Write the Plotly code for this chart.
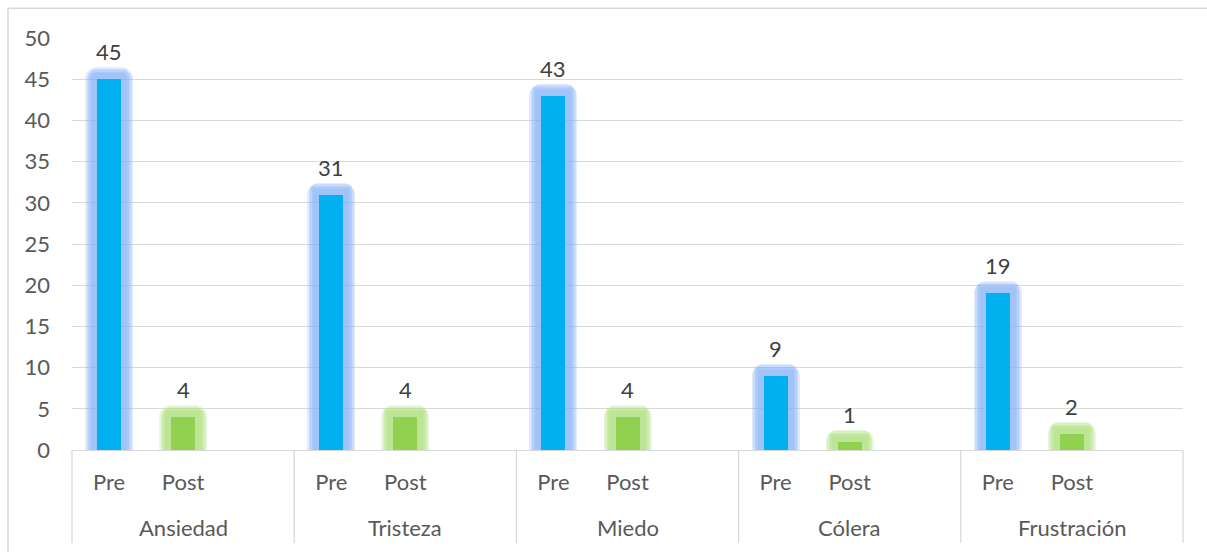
import plotly.graph_objects as go

groups = ["Ansiedad", "Tristeza", "Miedo", "Cólera", "Frustración"]
pre = [45, 31, 43, 9, 19]
post = [4, 4, 4, 1, 2]
sub_labels = ["Pre", "Post"]
y_ticks = list(range(0, 51, 5))

SLOTS = 3
x_pre = [i * SLOTS for i in range(len(groups))]
x_post = [i * SLOTS + 1 for i in range(len(groups))]
xmin, xmax = -0.5, len(groups) * SLOTS - 0.5

FONT = "Lato, Carlito, Calibri, sans-serif"
AXC = "#595959"
GRID = "#d9d9d9"
FS = 22

fig = go.Figure()

px_per_unit = 412.3 / 50.0
px_per_slot = 1111.0 / (xmax - xmin)
BAR_PX = 24


def add_glow(xs, ys, color):
    for ext in (12, 10.5, 9, 7.5, 6):
        fig.add_trace(go.Bar(
            x=xs, y=[v + ext / px_per_unit for v in ys],
            width=(BAR_PX + 2 * ext) / px_per_slot,
            marker=dict(color=color, opacity=0.26, line=dict(width=0), cornerradius=int(ext)),
            hoverinfo="skip", showlegend=False,
        ))


add_glow(x_pre, pre, "rgb(135,176,248)")
add_glow(x_post, post, "rgb(170,225,120)")

fig.add_trace(go.Bar(x=x_pre, y=pre, width=BAR_PX / px_per_slot,
                     marker=dict(color="#00B0F0", line=dict(width=0)), showlegend=False))
fig.add_trace(go.Bar(x=x_post, y=post, width=BAR_PX / px_per_slot,
                     marker=dict(color="#92D050", line=dict(width=0)), showlegend=False))

for xs, ys in ((x_pre, pre), (x_post, post)):
    for xv, yv in zip(xs, ys):
        fig.add_annotation(x=xv, y=yv, text=str(yv), showarrow=False,
                           yanchor="bottom", yshift=12,
                           font=dict(family=FONT, size=FS, color="#404040"))

# group labels
for i, g in enumerate(groups):
    fig.add_annotation(x=i * SLOTS + 1, y=-0.187, yref="paper", text=g,
                       showarrow=False, yanchor="middle",
                       font=dict(family=FONT, size=FS, color=AXC))

# category separators
for i in range(len(groups) + 1):
    xv = i * SLOTS - 0.5
    xp = (xv - xmin) / (xmax - xmin)
    fig.add_shape(type="line", xref="paper", yref="paper", x0=xp, x1=xp,
                  y0=0, y1=-0.2256, line=dict(color=GRID, width=1.3))

# outer chart border
fig.add_shape(type="rect", xref="paper", yref="paper",
              x0=-0.0576, x1=1.03, y0=1.072, y1=-0.28,
              line=dict(color=GRID, width=1.5), fillcolor="rgba(0,0,0,0)", layer="below")

tickvals = x_pre + x_post
ticktext = [sub_labels[0]] * len(x_pre) + [sub_labels[1]] * len(x_post)

fig.update_layout(
    width=1207, height=552,
    margin=dict(l=72, r=24, t=38, b=102),
    paper_bgcolor="white", plot_bgcolor="white",
    barmode="overlay", bargap=0,
    font=dict(family=FONT, color=AXC, size=FS),
    xaxis=dict(range=[xmin, xmax], tickvals=tickvals, ticktext=ticktext,
               showgrid=False, zeroline=False, showline=True, linecolor=GRID, linewidth=1.3,
               ticks="", ticklabelstandoff=12, tickfont=dict(family=FONT, size=FS, color=AXC)),
    yaxis=dict(range=[0, 50], tickvals=y_ticks, showgrid=True, gridcolor=GRID, gridwidth=1.3,
               zeroline=False, showline=False, ticks="", ticklabelstandoff=21,
               tickfont=dict(family=FONT, size=FS, color=AXC)),
)

fig.write_html("out.html")
